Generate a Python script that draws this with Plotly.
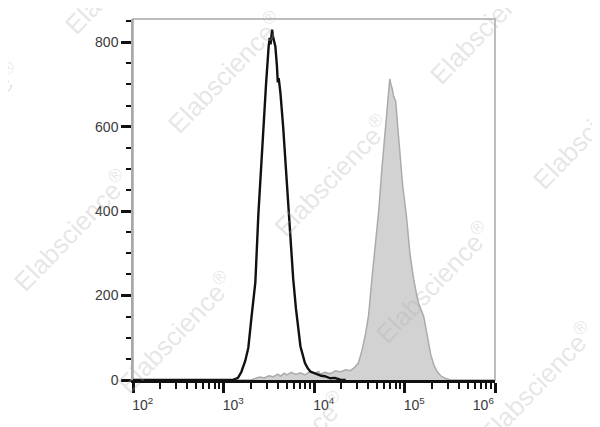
import plotly.graph_objects as go

# ---- data (log10 of fluorescence, event count) ----
black_log10_fl = [2.0, 3.0, 3.10, 3.16, 3.197, 3.24, 3.274, 3.31, 3.352, 3.385, 3.41, 3.437,
                  3.47, 3.499, 3.51, 3.52, 3.53, 3.537, 3.548, 3.56, 3.573, 3.59, 3.60, 3.61,
                  3.629, 3.659, 3.703, 3.74, 3.77, 3.80, 3.85, 3.90, 3.93, 3.96, 4.0, 4.035,
                  4.08, 4.12, 4.18, 4.23, 4.29, 4.35]
black_counts = [0, 0, 0, 5, 19, 45, 76, 150, 232, 391, 480, 600,
                700, 790, 810, 795, 815, 830, 812, 800, 790, 745, 705, 715,
                680, 600, 455, 330, 240, 170, 80, 40, 28, 20, 16, 14,
                10, 9, 4, 5, 1, 0]

gray_log10_fl = [3.30, 3.35, 3.40, 3.45, 3.50, 3.55, 3.60, 3.63, 3.67, 3.70, 3.75, 3.80,
                 3.85, 3.90, 3.95, 4.00, 4.05, 4.07, 4.12, 4.18, 4.24, 4.29, 4.35, 4.40,
                 4.45, 4.49, 4.53, 4.57, 4.604, 4.64, 4.68, 4.715, 4.75, 4.781, 4.81, 4.837,
                 4.85, 4.865, 4.88, 4.903, 4.925, 4.947, 4.98, 5.02, 5.06, 5.10, 5.15, 5.213,
                 5.25, 5.29, 5.324, 5.36, 5.40, 5.45, 5.51]
gray_counts = [0, 4, 7, 5, 10, 8, 14, 9, 16, 12, 18, 13,
               17, 12, 19, 15, 20, 14, 18, 15, 22, 19, 24, 22,
               30, 40, 70, 110, 155, 240, 320, 400, 500, 570, 650, 713,
               700, 690, 672, 660, 600, 541, 460, 391, 300, 240, 185, 150,
               105, 60, 36, 20, 10, 4, 0]

x_tick_exponents = [2, 3, 4, 5, 6]
x_minor_multipliers = [2, 3, 4, 5, 6, 7, 8, 9]
y_tick_values = [0, 200, 400, 600, 800]

watermark_text = "Elabscience<sup>®</sup>"
# watermark centres in pixel coordinates of the 600x427 picture
watermark_px = [(122, -27), (-37, 123), (225, 72), (487, 23), (590, 128), (71, 230),
                (332, 176), (175, 332), (433, 282), (537, 383), (288, 452)]

# ---- figure ----
OFF = 8  # page body margin in the browser
W, H = 600 - OFF, 427 - OFF
PLOT_L, PLOT_R, PLOT_T, PLOT_B = 133, 495, 19, 380  # plot area in window pixels
L, R, T, B = PLOT_L - OFF, (W + OFF) - PLOT_R, PLOT_T - OFF, (H + OFF) - PLOT_B
pw, ph = PLOT_R - PLOT_L, PLOT_B - PLOT_T

fig = go.Figure()
fig.add_trace(go.Scatter(
    x=[10 ** v for v in gray_log10_fl], y=gray_counts, mode="lines",
    fill="tozeroy", fillcolor="#d2d2d2",
    line=dict(color="#ababab", width=1.5), hoverinfo="skip", showlegend=False))
fig.add_trace(go.Scatter(
    x=[10 ** v for v in black_log10_fl], y=black_counts, mode="lines",
    line=dict(color="#111111", width=2.4), hoverinfo="skip", showlegend=False))

font = dict(family="Liberation Sans, Arial, sans-serif", size=14, color="#3a3a3a")

minor_vals = [m * 10 ** e for e in x_tick_exponents[:-1] for m in x_minor_multipliers]

# labels start at their tick (last one ends at the plot edge), as in the reference
NB = "&nbsp;"
x_ticktext = []
for i, e in enumerate(x_tick_exponents):
    lab = f"10<sup>{e}</sup>"
    if i == len(x_tick_exponents) - 1:
        x_ticktext.append(lab + NB * 6)
    else:
        x_ticktext.append(NB * 5 + lab)

fig.update_xaxes(
    type="log", range=[2, 6],
    tickvals=[10 ** e for e in x_tick_exponents],
    ticktext=x_ticktext,
    ticks="outside", ticklen=10, tickwidth=2.5, tickcolor="#111",
    minor=dict(tickvals=minor_vals, ticks="outside", ticklen=6, tickwidth=2, tickcolor="#111"),
    showline=True, linecolor="#111", linewidth=2.5,
    showgrid=False, zeroline=False, tickfont=font)
fig.update_yaxes(
    range=[0, 855], tickvals=y_tick_values,
    ticks="outside", ticklen=10, tickwidth=2.5, tickcolor="#111",
    minor=dict(dtick=50, ticks="outside", ticklen=5, tickwidth=2, tickcolor="#111"),
    showline=True, linecolor="#a8a8a8", linewidth=1.5,
    showgrid=False, zeroline=False, tickfont=font)

fig.add_shape(type="rect", xref="paper", yref="paper", x0=0, x1=1, y0=0, y1=1,
              line=dict(color="#a8a8a8", width=1.5), layer="below")

for (px, py) in watermark_px:
    fig.add_annotation(
        x=(px - PLOT_L) / pw, y=(PLOT_B - py) / ph, xref="paper", yref="paper",
        text=watermark_text, showarrow=False, textangle=-46,
        font=dict(family="Liberation Sans, Arial, sans-serif", size=26,
                  color="rgba(175,175,175,0.32)"),
        xanchor="center", yanchor="middle")

fig.update_layout(
    width=W, height=H, margin=dict(l=L, r=R, t=T, b=B),
    paper_bgcolor="white", plot_bgcolor="white")

fig.write_html("out.html")
